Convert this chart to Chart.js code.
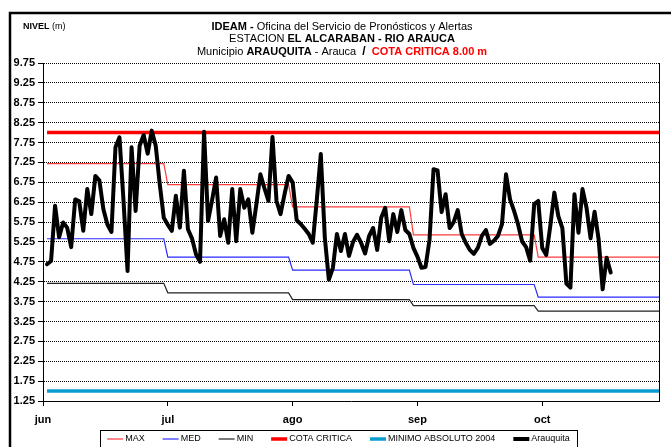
<!DOCTYPE html>
<html lang="es">
<head>
<meta charset="utf-8">
<title>Nivel Río Arauca - Estación El Alcaraban</title>
<script src="https://cdn.jsdelivr.net/npm/chart.js@4.4.1/dist/chart.umd.min.js"></script>
<style>
  html, body { margin: 0; padding: 0; background: #fff; }
  #grafico { display: block; }
</style>
</head>
<body>
<canvas id="grafico" width="671" height="447"></canvas>
<script>
// eje x: dia desde el 1 de junio (0) hasta el 31 de octubre (152)
const meses = ['jun', 'jul', 'ago', 'sep', 'oct'];
const marcasMes = [-1, 30, 61, 92, 123];
const inicioMes = [0, 30, 61, 91, 122];
const ultimoDia = 152;

// eje y: niveles en metros
const nivelTicks = [1.25, 1.75, 2.25, 2.75, 3.25, 3.75, 4.25, 4.75, 5.25,
  5.75, 6.25, 6.75, 7.25, 7.75, 8.25, 8.75, 9.25, 9.75];

// niveles historicos por mes (jun..oct)
const maxMes = [7.22, 6.69, 6.13, 5.43, 4.87];
const medMes = [5.33, 4.87, 4.54, 4.18, 3.86];
const minMes = [4.21, 3.97, 3.80, 3.65, 3.51];
const cotaCritica = 8.00;
const minimoAbsoluto2004 = 1.50;

// lecturas diarias Arauquita desde el 1 de junio
const arauquita = [
  4.69, 4.77, 6.16, 5.37, 5.74, 5.61, 5.12, 6.32, 6.27, 5.53,
  6.58, 5.95, 6.91, 6.80, 6.07, 5.69, 5.50, 7.63, 7.88, 6.28,
  4.52, 7.63, 6.03, 7.67, 7.94, 7.47, 8.05, 7.67, 6.70, 5.86,
  5.68, 5.53, 6.41, 5.61, 7.04, 5.57, 5.34, 4.94, 4.75, 8.02,
  5.78, 6.30, 6.87, 5.40, 5.82, 5.23, 6.58, 5.27, 6.58, 6.11,
  6.32, 5.48, 6.20, 6.95, 6.60, 6.28, 7.89, 6.28, 5.95, 6.45,
  6.91, 6.75, 5.80, 5.70, 5.58, 5.45, 5.23, 6.30, 7.46, 5.36,
  4.30, 4.60, 5.45, 5.02, 5.45, 4.90, 5.25, 5.43, 5.23, 4.96,
  5.40, 5.60, 5.05, 5.86, 6.11, 5.27, 5.95, 5.50, 6.05, 5.55,
  5.45, 5.10, 4.88, 4.60, 4.62, 5.30, 7.08, 7.05, 6.00, 6.45,
  5.60, 5.75, 6.05, 5.45, 5.23, 5.05, 4.95, 5.10, 5.40, 5.55,
  5.20, 5.28, 5.40, 5.70, 6.95, 6.32, 6.03, 5.69, 5.26, 5.12,
  4.78, 6.20, 6.28, 5.10, 4.92, 5.65, 6.49, 5.90, 5.60, 4.20,
  4.10, 6.45, 5.48, 6.58, 6.11, 5.34, 6.01, 5.32, 4.06, 4.85,
  4.48
];

const FUENTE = '"Liberation Sans", Arial, sans-serif';

// valor mensual repetido del primer al ultimo dia de cada mes
function escalones(valores) {
  const pts = [];
  valores.forEach((v, m) => {
    const fin = m + 1 < inicioMes.length ? inicioMes[m + 1] - 1 : ultimoDia;
    pts.push({ x: inicioMes[m], y: v }, { x: fin, y: v });
  });
  return pts;
}

function horizontal(v) {
  return [{ x: 0, y: v }, { x: ultimoDia, y: v }];
}

function textoMixto(ctx, partes, x, y, centrado) {
  let total = 0;
  partes.forEach(p => { ctx.font = p.f; p.w = ctx.measureText(p.t).width; total += p.w; });
  let px = centrado ? x - total / 2 : x;
  partes.forEach(p => {
    ctx.font = p.f;
    ctx.fillStyle = p.c || '#000';
    ctx.fillText(p.t, px, y);
    px += p.w;
  });
}

// encabezado, marco, borde derecho y leyenda
const decoracion = {
  id: 'decoracion',
  afterDatasetsDraw(chart) {
    const { ctx, chartArea } = chart;
    ctx.save();
    ctx.strokeStyle = '#000';
    ctx.lineWidth = 1;
    ctx.beginPath();
    ctx.moveTo(Math.round(chartArea.right) + 0.5, chartArea.top);
    ctx.lineTo(Math.round(chartArea.right) + 0.5, chartArea.bottom);
    ctx.stroke();
    ctx.restore();
  },
  afterDraw(chart) {
    const ctx = chart.ctx;
    ctx.save();

    // marco exterior
    ctx.strokeStyle = '#000';
    ctx.lineWidth = 2.5;
    ctx.beginPath();
    ctx.moveTo(10, 447);
    ctx.lineTo(10, 13);
    ctx.lineTo(671, 13);
    ctx.stroke();

    const b11 = 'bold 11px ' + FUENTE;
    const n11 = '11px ' + FUENTE;
    ctx.textBaseline = 'middle';
    textoMixto(ctx, [{ t: 'NIVEL', f: 'bold 9px ' + FUENTE }, { t: ' (m)', f: '9px ' + FUENTE }], 23, 27, false);
    textoMixto(ctx, [
      { t: 'IDEAM - ', f: b11 },
      { t: 'Oficina del Servicio de Pronósticos y Alertas', f: n11 }
    ], 342, 27, true);
    textoMixto(ctx, [
      { t: 'ESTACION ', f: n11 },
      { t: 'EL ALCARABAN - RIO ARAUCA', f: b11 }
    ], 342, 39, true);
    textoMixto(ctx, [
      { t: 'Municipio ', f: n11 },
      { t: 'ARAUQUITA', f: b11 },
      { t: ' - Arauca  ', f: n11 },
      { t: '/', f: 'bold 12px ' + FUENTE },
      { t: '  ', f: n11 },
      { t: 'COTA CRITICA 8.00 m', f: b11, c: '#ff0000' }
    ], 342, 52, true);

    // leyenda
    ctx.strokeStyle = '#000';
    ctx.lineWidth = 1;
    ctx.strokeRect(100.5, 430.5, 477, 30);
    ctx.font = '9px ' + FUENTE;
    const items = chart.data.datasets.map(ds => ({
      label: ds.label, color: ds.borderColor, grosor: Math.min(ds.borderWidth, 4),
      w: ctx.measureText(ds.label).width
    }));
    const muestra = 16, sep = 2, hueco = 18;
    let total = 0;
    items.forEach((it, k) => { total += muestra + sep + it.w + (k < items.length - 1 ? hueco : 0); });
    let x = 338.5 - total / 2;
    const yl = 439;
    items.forEach(it => {
      ctx.strokeStyle = it.color;
      ctx.lineWidth = it.grosor;
      ctx.beginPath();
      ctx.moveTo(x, yl);
      ctx.lineTo(x + muestra, yl);
      ctx.stroke();
      x += muestra + sep;
      ctx.fillStyle = '#000';
      ctx.fillText(it.label, x, yl);
      x += it.w + hueco;
    });
    ctx.restore();
  }
};

new Chart(document.getElementById('grafico'), {
  type: 'line',
  data: {
    datasets: [
      { label: 'MAX', data: escalones(maxMes), borderColor: '#ff3b3b', borderWidth: 1.2, order: 1 },
      { label: 'MED', data: escalones(medMes), borderColor: '#2b2bff', borderWidth: 1.2, order: 1 },
      { label: 'MIN', data: escalones(minMes), borderColor: '#222222', borderWidth: 1.2, order: 1 },
      { label: 'COTA CRITICA', data: horizontal(cotaCritica), borderColor: '#ff0000', borderWidth: 3.5, order: 1 },
      { label: 'MINIMO ABSOLUTO 2004', data: horizontal(minimoAbsoluto2004), borderColor: '#0a9ccf', borderWidth: 3.5, order: 1 },
      { label: 'Arauquita', data: arauquita.map((v, i) => ({ x: i, y: v })), borderColor: '#000000',
        borderWidth: 4, borderJoinStyle: 'round', borderCapStyle: 'round', order: 0 }
    ]
  },
  options: {
    responsive: false,
    animation: false,
    elements: { point: { radius: 0 }, line: { tension: 0 } },
    layout: { padding: { top: 63, right: 12, left: 0, bottom: 0 } },
    plugins: {
      legend: { display: false },
      title: { display: false },
      tooltip: { enabled: false }
    },
    scales: {
      x: {
        type: 'linear',
        min: -1,
        max: ultimoDia,
        afterBuildTicks: s => { s.ticks = marcasMes.map(v => ({ value: v })); },
        afterFit: s => { s.height = 46; },
        ticks: {
          autoSkip: false,
          maxRotation: 0,
          padding: 7,
          color: '#000',
          font: { family: FUENTE, size: 11, weight: 'bold' },
          callback: v => meses[marcasMes.indexOf(v)]
        },
        grid: { drawOnChartArea: false, tickLength: 5, tickColor: '#000' },
        border: { color: '#000', width: 1 }
      },
      y: {
        min: 1.25,
        max: 9.75,
        afterBuildTicks: s => { s.ticks = nivelTicks.map(v => ({ value: v })); },
        afterFit: s => { s.width = 43; },
        ticks: {
          padding: 3,
          color: '#000',
          font: { family: FUENTE, size: 11, weight: 'bold' },
          callback: v => v.toFixed(2)
        },
        grid: { color: '#000', lineWidth: 1, tickLength: 5, tickColor: '#000' },
        border: { color: '#000', width: 1, dash: [1, 1] }
      }
    }
  },
  plugins: [decoracion]
});
</script>
</body>
</html>
